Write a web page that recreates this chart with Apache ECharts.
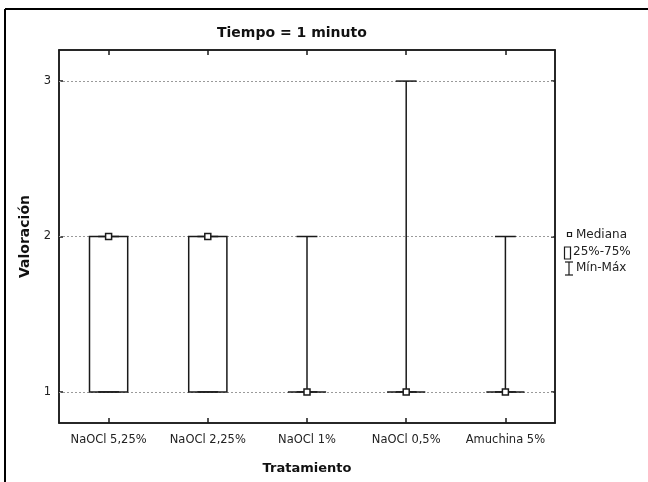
<!DOCTYPE html>
<html>
<head>
<meta charset="utf-8">
<script src="https://cdn.jsdelivr.net/npm/echarts@6/dist/echarts.min.js"></script>
<style>
  html, body { margin: 0; padding: 0; background: #fff; }
  #chart { width: 648px; height: 482px; }
</style>
</head>
<body>
<div id="chart"></div>
<script>
// datos
const categories = ['NaOCl 5,25%', 'NaOCl 2,25%', 'NaOCl 1%', 'NaOCl 0,5%', 'Amuchina 5%'];
const minValues = [1, 1, 1, 1, 1];
const q1Values = [1, 1, 1, 1, 1];
const medianValues = [2, 2, 1, 1, 1];
const q3Values = [2, 2, 1, 1, 1];
const maxValues = [2, 2, 2, 3, 2];
const yTicks = [1, 2, 3];

const FONT = '"DejaVu Sans", "Liberation Sans", Arial, sans-serif';
const INK = '#1a1a1a';

const chart = echarts.init(document.getElementById('chart'));

const boxData = categories.map((c, i) => [i, minValues[i], q1Values[i], medianValues[i], q3Values[i], maxValues[i]]);

// dibuja caja + bigotes + mediana
const renderBox = (params, api) => {
  const i = api.value(0);
  const band = api.size([1, 0])[0];
  const boxW = band * 0.385;
  const capW = band * 0.21;
  const pMin = api.coord([i, api.value(1)]);
  const pQ1 = api.coord([i, api.value(2)]);
  const pMed = api.coord([i, api.value(3)]);
  const pQ3 = api.coord([i, api.value(4)]);
  const pMax = api.coord([i, api.value(5)]);
  const x = pMed[0];
  const line = { stroke: INK, lineWidth: 1.5 };
  const children = [];

  if (pMax[1] < pQ3[1]) {
    children.push({ type: 'line', shape: { x1: x, y1: pMax[1], x2: x, y2: pQ3[1] }, style: line });
  }
  if (pMin[1] > pQ1[1]) {
    children.push({ type: 'line', shape: { x1: x, y1: pQ1[1], x2: x, y2: pMin[1] }, style: line });
  }
  children.push({ type: 'line', shape: { x1: x - capW / 2, y1: pMax[1], x2: x + capW / 2, y2: pMax[1] }, style: line });
  children.push({ type: 'line', shape: { x1: x - capW / 2, y1: pMin[1], x2: x + capW / 2, y2: pMin[1] }, style: line });
  children.push({
    type: 'rect',
    shape: { x: x - boxW / 2, y: pQ3[1], width: boxW, height: pQ1[1] - pQ3[1] },
    style: { fill: 'rgba(255,255,255,0)', stroke: INK, lineWidth: 1.5 }
  });
  children.push({
    type: 'rect',
    shape: { x: x - 3, y: pMed[1] - 3, width: 6, height: 6 },
    style: { fill: '#fff', stroke: INK, lineWidth: 1.5 }
  });
  return { type: 'group', children };
};

const legendText = { font: '12px ' + FONT, fill: '#222', verticalAlign: 'middle' };
const tickStyle = { color: INK, width: 1.5 };

const option = {
  animation: false,
  backgroundColor: '#fff',
  title: {
    text: 'Tiempo = 1 minuto',
    left: 212,
    top: 21,
    textStyle: { fontFamily: FONT, fontSize: 14, fontWeight: 'bold', color: '#111' }
  },
  grid: {
    left: 59, right: 93, top: 50, bottom: 59,
    outerBoundsMode: 'none',
    show: true, borderColor: INK, borderWidth: 1.5, backgroundColor: 'transparent'
  },
  xAxis: [
    {
      type: 'category',
      data: categories,
      position: 'bottom',
      name: 'Tratamiento',
      nameLocation: 'middle',
      nameGap: 39,
      nameTextStyle: { fontFamily: FONT, fontSize: 13, fontWeight: 'bold', color: '#111' },
      axisLine: { show: true, lineStyle: { color: INK, width: 1.5 } },
      axisTick: { show: true, inside: true, alignWithLabel: true, length: 5, lineStyle: tickStyle },
      axisLabel: { interval: 0, hideOverlap: false, margin: 11, fontFamily: FONT, fontSize: 11.5, color: '#222' },
      splitLine: { show: false }
    },
    {
      type: 'category',
      data: categories,
      position: 'top',
      axisLine: { show: true, lineStyle: { color: INK, width: 1.5 } },
      axisTick: { show: true, inside: true, alignWithLabel: true, interval: 0, length: 5, lineStyle: tickStyle },
      axisLabel: { show: false },
      splitLine: { show: false }
    }
  ],
  yAxis: [
    {
      type: 'value',
      min: 0.8,
      max: 3.2,
      position: 'left',
      name: 'Valoración',
      nameLocation: 'middle',
      nameGap: 26,
      nameTextStyle: { fontFamily: FONT, fontSize: 14, fontWeight: 'bold', color: '#111' },
      axisLine: { show: true, lineStyle: { color: INK, width: 1.5 } },
      axisTick: { show: true, inside: true, length: 4, customValues: yTicks, lineStyle: tickStyle },
      axisLabel: { customValues: yTicks, margin: 8, fontFamily: FONT, fontSize: 11.5, color: '#222' },
      splitLine: { show: false }
    },
    {
      type: 'value',
      min: 0.8,
      max: 3.2,
      position: 'right',
      axisLine: { show: true, lineStyle: { color: INK, width: 1.5 } },
      axisTick: { show: true, inside: true, length: 4, customValues: yTicks, lineStyle: tickStyle },
      axisLabel: { show: false },
      splitLine: { show: false }
    }
  ],
  series: [
    {
      // líneas de rejilla punteadas
      type: 'line',
      data: [],
      z: 1,
      markLine: {
        silent: true,
        symbol: 'none',
        label: { show: false },
        lineStyle: { type: [2, 2], color: '#9a9a9a', width: 1 },
        data: yTicks.map(v => ({ yAxis: v }))
      }
    },
    {
      type: 'custom',
      z: 5,
      renderItem: renderBox,
      data: boxData,
      encode: { x: 0, y: [1, 2, 3, 4, 5] }
    }
  ],
  graphic: [
    // marco exterior
    { type: 'line', shape: { x1: 5, y1: 9, x2: 648, y2: 9 }, style: { stroke: '#000', lineWidth: 2 } },
    { type: 'line', shape: { x1: 5, y1: 9, x2: 5, y2: 482 }, style: { stroke: '#000', lineWidth: 2 } },
    // leyenda
    { type: 'rect', shape: { x: 567.5, y: 232.5, width: 4, height: 4 }, style: { fill: '#fff', stroke: INK, lineWidth: 1.2 } },
    { type: 'text', x: 576, y: 235, style: Object.assign({ text: 'Mediana' }, legendText) },
    { type: 'rect', shape: { x: 564.5, y: 247, width: 6, height: 12 }, style: { fill: '#fff', stroke: INK, lineWidth: 1.2 } },
    { type: 'text', x: 573, y: 252, style: Object.assign({ text: '25%-75%' }, legendText) },
    { type: 'line', shape: { x1: 569, y1: 262, x2: 569, y2: 275 }, style: { stroke: INK, lineWidth: 1.2 } },
    { type: 'line', shape: { x1: 565, y1: 262, x2: 573, y2: 262 }, style: { stroke: INK, lineWidth: 1.2 } },
    { type: 'line', shape: { x1: 565, y1: 275, x2: 573, y2: 275 }, style: { stroke: INK, lineWidth: 1.2 } },
    { type: 'text', x: 576, y: 268, style: Object.assign({ text: 'Mín-Máx' }, legendText) }
  ]
};

chart.setOption(option);
</script>
</body>
</html>
